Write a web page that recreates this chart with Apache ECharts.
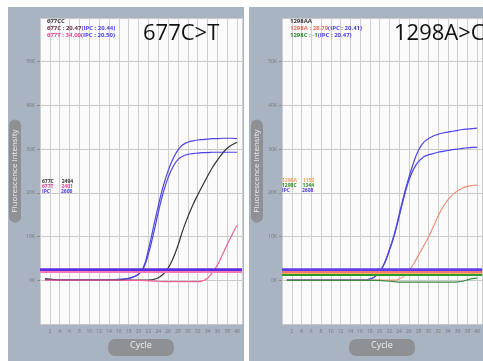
<!DOCTYPE html>
<html>
<head>
<meta charset="utf-8">
<script src="https://cdn.jsdelivr.net/npm/echarts@6/dist/echarts.min.js"></script>
<style>
  html, body { margin: 0; padding: 0; background: #fff; }
  #chart { width: 483px; height: 361px; }
</style>
</head>
<body>
<div id="chart"></div>
<script>
// cycle numbers
const cycles = [1, 2, 3, 4, 5, 6, 7, 8, 9, 10, 11, 12, 13, 14, 15, 16, 17, 18, 19, 20,
  21, 22, 23, 24, 25, 26, 27, 28, 29, 30, 31, 32, 33, 34, 35, 36, 37, 38, 39, 40];

// 677C>T panel
const ipcHiL = [200, 180, 150, 120, 100, 100, 100, 100, 100, 100, 100, 100, 120, 150, 180, 220, 300, 450, 800, 1500,
  3000, 7000, 12000, 17000, 21500, 25000, 27800, 29800, 31000, 31600, 31900, 32100, 32200, 32300, 32400, 32400, 32500, 32500, 32500, 32400];
const ipcLoL = [200, 180, 150, 120, 100, 100, 100, 100, 100, 100, 100, 100, 120, 150, 180, 220, 300, 450, 800, 1400,
  2800, 6000, 10500, 15500, 20000, 23500, 26000, 27600, 28400, 28800, 29000, 29100, 29200, 29200, 29300, 29300, 29300, 29300, 29300, 29300];
const c677 = [400, 300, 150, 50, 50, 50, 50, 50, 50, 50, 50, 50, 50, 50, 50, 50, 50, 50, 50, 50,
  50, 80, 200, 600, 1400, 2800, 5000, 8000, 11500, 14500, 17200, 19500, 21700, 23800, 25800, 27500, 29000, 30200, 31000, 31600];
const t677 = [50, 50, 50, 50, 50, 50, 50, 50, 50, 50, 50, 50, 50, 50, 50, 50, 0, 0, 0, 0,
  -50, -100, -150, -200, -300, -300, -300, -300, -300, -300, -300, -300, -100, 500, 1800, 3500, 5800, 8200, 10500, 12600];
const thrL = [2500, 2000];

// 1298A>C panel
const ipcHiR = [100, 100, 100, 100, 100, 100, 100, 100, 100, 100, 100, 100, 100, 100, 100, 100, 100, 300, 800, 2000,
  4000, 7000, 10500, 15000, 19500, 23500, 27000, 29800, 31500, 32400, 33000, 33400, 33700, 33900, 34100, 34300, 34500, 34600, 34700, 34800];
const ipcLoR = [100, 100, 100, 100, 100, 100, 100, 100, 100, 100, 100, 100, 100, 100, 100, 100, 100, 300, 800, 1900,
  3800, 6800, 10200, 14500, 19000, 22800, 25500, 27200, 28200, 28700, 29000, 29300, 29500, 29700, 29900, 30000, 30200, 30300, 30400, 30400];
const a1298 = [50, 50, 50, 50, 50, 50, 50, 50, 50, 50, 50, 50, 50, 50, 50, 50, 50, 50, 50, 50,
  50, 50, 50, 300, 1000, 2200, 3800, 5800, 7800, 9800, 12200, 14700, 16800, 18400, 19600, 20500, 21100, 21500, 21700, 21800];
const c1298 = [0, 0, 0, 0, 0, 0, 0, 0, 0, 0, 0, 0, 0, 0, 0, 0, 0, 0, 0, 0,
  -100, -200, -300, -400, -400, -400, -400, -400, -400, -400, -400, -400, -400, -400, -400, -350, -200, 100, 400, 500];
const thrR = [2500, 1900, 1500, 1200];

const blue = '#4e44e6';
const font = 'Open Sans';

const pts = arr => cycles.map((c, i) => [c, arr[i]]);

function curve(data, color, idx, extra) {
  return Object.assign({
    type: 'line',
    xAxisIndex: idx,
    yAxisIndex: idx,
    data: pts(data),
    showSymbol: false,
    smooth: true,
    lineStyle: { color: color, width: 1.2 },
    silent: true
  }, extra || {});
}

function thresholds(vals, colors, widths) {
  return {
    symbol: 'none',
    silent: true,
    label: { show: false },
    data: vals.map((v, i) => ({
      yAxis: v,
      lineStyle: { color: colors[i], width: widths[i], type: 'solid' }
    }))
  };
}

function xAx(idx) {
  return {
    type: 'value',
    gridIndex: idx,
    min: 0,
    max: 41,
    interval: 2,
    name: 'Cycle',
    nameLocation: 'middle',
    nameGap: 14,
    nameTextStyle: {
      color: '#eeeeee', fontSize: 9, fontFamily: font,
      backgroundColor: '#8e9094', borderRadius: 7, padding: [2, 22, 6, 22]
    },
    axisLine: { show: false },
    axisTick: { show: false },
    axisLabel: { fontSize: 5, color: '#777', margin: 5, showMinLabel: false, showMaxLabel: false, fontFamily: font },
    splitLine: { show: true, lineStyle: { color: '#cfcfcf', width: 1 } }
  };
}

function yAx(idx) {
  return {
    type: 'value',
    gridIndex: idx,
    min: -10000,
    max: 60000,
    interval: 10000,
    name: 'Fluorescence Intensity',
    nameLocation: 'middle',
    nameRotate: 90,
    nameGap: 19,
    nameTextStyle: {
      color: '#eeeeee', fontSize: 8, fontFamily: font,
      backgroundColor: '#8e9094', borderRadius: 6, padding: [2, 10]
    },
    axisLine: { show: false },
    axisTick: { show: true, length: 3, lineStyle: { color: '#888' } },
    axisLabel: {
      fontSize: 5, color: '#777', margin: 5, fontFamily: font,
      showMinLabel: false, showMaxLabel: false,
      formatter: v => (v / 1000) + 'K'
    },
    splitLine: { show: true, lineStyle: { color: '#c8c8c8', width: 1 } }
  };
}

const small = { fontSize: 6, fontFamily: font, lineHeight: 7 };
const tiny = { fontSize: 5, fontFamily: font, lineHeight: 5 };

const chart = echarts.init(document.getElementById('chart'));
chart.setOption({
  animation: false,
  backgroundColor: '#ffffff',
  graphic: [
    { type: 'rect', z: -10, shape: { x: 8, y: 7, width: 236, height: 360 }, style: { fill: '#a8b4c2' } },
    { type: 'rect', z: -10, shape: { x: 249, y: 7, width: 240, height: 360 }, style: { fill: '#a8b4c2' } }
  ],
  title: [
    { text: '677C>T', left: 143, top: 23, padding: 0, textStyle: { fontSize: 22, fontWeight: 'normal', color: '#111', fontFamily: font } },
    { text: '1298A>C', left: 394, top: 23, padding: 0, textStyle: { fontSize: 22, fontWeight: 'normal', color: '#111', fontFamily: font } },
    {
      text: '{k|677CC}\n{d|677C : 20.47}{b|(IPC : 20.44)}\n{p|677T : 34.00}{b|(IPC : 20.50)}',
      left: 47, top: 18, padding: 0,
      textStyle: Object.assign({
        rich: {
          k: Object.assign({ color: '#333' }, small),
          d: Object.assign({ color: '#6a2c4a' }, small),
          p: Object.assign({ color: '#e8408e' }, small),
          b: Object.assign({ color: '#4a3ee0' }, small)
        }
      }, small)
    },
    {
      text: '{k|1298AA}\n{r|1298A : 28.79}{b|(IPC : 20.41)}\n{g|1298C : -1}{b|(IPC : 20.47)}',
      left: 290, top: 18, padding: 0,
      textStyle: Object.assign({
        rich: {
          k: Object.assign({ color: '#333' }, small),
          r: Object.assign({ color: '#ec6a5a' }, small),
          g: Object.assign({ color: '#2e8a2e' }, small),
          b: Object.assign({ color: '#4a3ee0' }, small)
        }
      }, small)
    },
    {
      text: '{d|677C}{gap|}{d|2494}\n{p|677T}{gap|}{p|2401}\n{b|IPC}{gap2|}{b|2606}',
      left: 42, top: 179, padding: 0,
      textStyle: Object.assign({
        rich: {
          d: Object.assign({ color: '#333' }, tiny),
          p: Object.assign({ color: '#e8408e' }, tiny),
          b: Object.assign({ color: '#4a3ee0' }, tiny),
          gap: { width: 8, lineHeight: 5 },
          gap2: { width: 11, lineHeight: 5 }
        }
      }, tiny)
    },
    {
      text: '{r|1298A}{gap|}{r|1152}\n{g|1298C}{gap|}{g|1344}\n{b|IPC}{gap2|}{b|2608}',
      left: 282, top: 178, padding: 0,
      textStyle: Object.assign({
        rich: {
          r: Object.assign({ color: '#f0a060' }, tiny),
          g: Object.assign({ color: '#2e8a2e' }, tiny),
          b: Object.assign({ color: '#4a3ee0' }, tiny),
          gap: { width: 6, lineHeight: 5 },
          gap2: { width: 12, lineHeight: 5 }
        }
      }, tiny)
    }
  ],
  grid: [
    { left: 40, top: 18, width: 202, height: 320, show: true, backgroundColor: '#fbfbfb', borderWidth: 0 },
    { left: 282, top: 18, width: 202, height: 320, show: true, backgroundColor: '#fbfbfb', borderWidth: 0 }
  ],
  xAxis: [xAx(0), xAx(1)],
  yAxis: [yAx(0), yAx(1)],
  series: [
    curve(ipcHiL, blue, 0, {
      markLine: thresholds(thrL, ['#5a2ee0', '#f27ab8'], [3.5, 2])
    }),
    curve(ipcLoL, blue, 0),
    curve(c677, '#333333', 0),
    curve(t677, '#f0609a', 0),
    curve(ipcHiR, blue, 1, {
      markLine: thresholds(thrR, ['#5b3ce8', '#f07878', '#f5b050', '#2e9a2e'], [3.5, 2, 2, 2])
    }),
    curve(ipcLoR, blue, 1),
    curve(a1298, '#f0907a', 1),
    curve(c1298, '#3c8c3c', 1)
  ]
});
</script>
</body>
</html>
